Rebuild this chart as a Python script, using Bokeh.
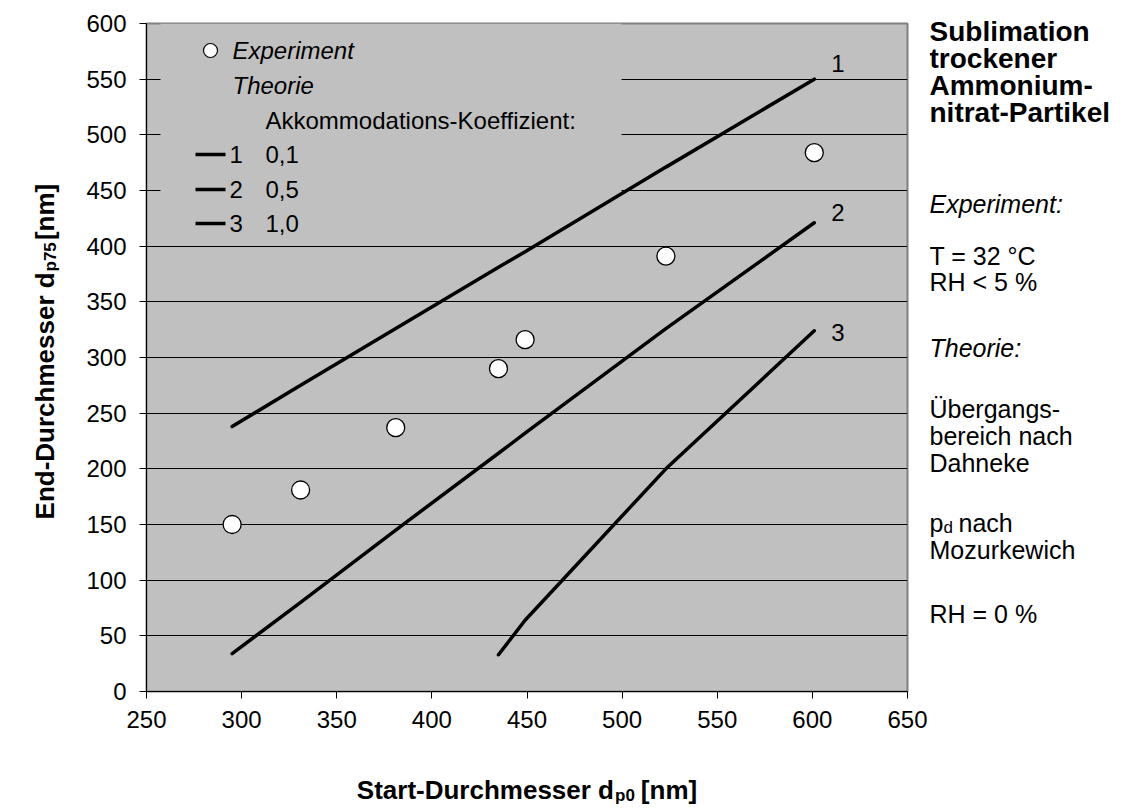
from math import pi
from bokeh.plotting import figure
from bokeh.models import Range1d, Label, FixedTicker
from bokeh.core.properties import value
from bokeh.layouts import row, column
from bokeh.embed import file_html
from bokeh.resources import INLINE

# ---------------- data ----------------
x_ticks = [250, 300, 350, 400, 450, 500, 550, 600, 650]
y_ticks = [0, 50, 100, 150, 200, 250, 300, 350, 400, 450, 500, 550, 600]

exp_x = [295, 331, 381, 435, 449, 523, 601]
exp_y = [150, 181, 237, 290, 316, 391, 484]

th1_x = [295, 331, 381, 435, 449, 523, 601]
th1_y = [238, 275, 326, 381, 395, 471, 550]
th2_x = [295, 331, 381, 435, 449, 523, 601]
th2_y = [34, 80, 145, 214, 232, 326, 421]
th3_x = [435, 449, 523, 601]
th3_y = [33, 64, 200, 324]

curve_ids = ["1", "2", "3"]
coef_labels = ["0,1", "0,5", "1,0"]

# ---------------- layout (page pixels) ----------------
TOTAL_H = 806
YT_W = 70
ML, MR, MT, MB = 76, 22, 23, 60
FW, FH = 761, 668
MAIN_W = ML + FW + MR
MAIN_H = MT + FH + MB
XT_H = TOTAL_H - MAIN_H
NOTES_X = YT_W + MAIN_W
NOTES_W = 1120 - NOTES_X

PL = YT_W + ML
PT = MT
SX = FW / 400.0
SY = FH / 600.0


def dx(px):
    return 250 + (px - PL) / SX


def dy(py):
    return 600 - (py - PT) / SY


FONT = "Liberation Sans"
FS = "24px"
FSN = "25px"
FSB = "26px"
FSNB = "28px"
FSUB = "17px"


def text_fig(w, h):
    f = figure(width=w, height=h, x_range=Range1d(0, w), y_range=Range1d(0, h),
               min_border=0, x_axis_location=None, y_axis_location=None,
               output_backend="svg", toolbar_location=None)
    f.outline_line_color = None
    f.grid.visible = False
    f.background_fill_color = "white"
    f.border_fill_color = "white"
    return f


def add_text(fig, x, y, text, size=FS, style="normal", baseline="alphabetic", angle=0.0,
             align="left"):
    fig.text(x=[x], y=[y], text=[text], text_font=value(FONT), text_font_size=value(size),
             text_font_style=style, text_baseline=baseline, text_align=align,
             angle=angle, text_color="black")


# ---------------- main plot ----------------
p = figure(width=MAIN_W, height=MAIN_H,
           min_border_left=ML, min_border_right=MR, min_border_top=MT, min_border_bottom=MB,
           x_range=Range1d(250, 650), y_range=Range1d(0, 600),
           output_backend="svg", toolbar_location=None)
p.background_fill_color = "#C0C0C0"
p.border_fill_color = "white"
p.outline_line_color = "#808080"
p.outline_line_width = 2

p.xgrid.grid_line_color = None
p.ygrid.grid_line_color = "#000000"
p.ygrid.grid_line_width = 1
p.ygrid.ticker = FixedTicker(ticks=y_ticks)

p.xaxis.ticker = FixedTicker(ticks=x_ticks)
p.yaxis.ticker = FixedTicker(ticks=y_ticks)
for ax in (p.xaxis, p.yaxis):
    ax.axis_line_color = "black"
    ax.axis_line_width = 1
    ax.major_tick_line_color = "black"
    ax.major_tick_out = 7
    ax.major_tick_in = 0
    ax.minor_tick_line_color = None
    ax.major_label_text_font = FONT
    ax.major_label_text_font_size = FS
    ax.major_label_text_color = "black"
p.xaxis.major_label_standoff = 12
p.yaxis.major_label_standoff = 13

# legend box (hides gridlines behind the legend)
p.quad(left=[dx(PL + 14)], right=[dx(PL + 475)], bottom=[dy(238)], top=[600],
       fill_color="#C0C0C0", line_color=None)

# theory lines
for xs, ys in ((th1_x, th1_y), (th2_x, th2_y), (th3_x, th3_y)):
    p.line(xs, ys, line_width=3.5, line_color="black", line_cap="round")

# experiment points
p.scatter(exp_x, exp_y, size=18, marker="circle", fill_color="white",
          line_color="black", line_width=1.3)

# curve labels near line ends
ends = [(th1_x[-1], th1_y[-1], 16), (th2_x[-1], th2_y[-1], 10), (th3_x[-1], th3_y[-1], -2)]
for cid, (ex, ey, off) in zip(curve_ids, ends):
    p.add_layout(Label(x=ex, y=ey, x_offset=17, y_offset=off, text=cid,
                       text_font=FONT, text_font_size=FS, text_baseline="middle",
                       text_align="left", text_color="black"))

# legend contents
p.scatter([dx(PL + 64)], [dy(50)], size=14, marker="circle", fill_color="white",
          line_color="black", line_width=1.2)
add_text(p, dx(PL + 86), dy(50), "Experiment", style="italic", baseline="middle")
add_text(p, dx(PL + 86), dy(85), "Theorie", style="italic", baseline="middle")
add_text(p, dx(PL + 119), dy(120), "Akkommodations-Koeffizient:", baseline="middle")
for i, (cid, cl) in enumerate(zip(curve_ids, coef_labels)):
    yy = [154, 189, 223][i]
    p.segment(x0=[dx(PL + 49)], y0=[dy(yy)], x1=[dx(PL + 79)], y1=[dy(yy)],
              line_width=3.5, line_color="black")
    add_text(p, dx(PL + 83), dy(yy), cid, baseline="middle")
    add_text(p, dx(PL + 119), dy(yy), cl, baseline="middle")

# ---------------- y title strip (rotated, reads upward) ----------------
yt = text_fig(YT_W, MAIN_H)
h_main = 9.502 * 26
h_sub = 1.723 * 17
h_gap = 7
h_tail = 2.166 * 26
tot = h_main + h_sub + h_gap + h_tail
cy = MAIN_H - (PT + FH / 2.0)
join = cy - tot / 2.0 + h_main
YB = 44
add_text(yt, YB, join, "End-Durchmesser d", size=FSB, style="bold", angle=pi / 2, align="right")
add_text(yt, YB + 6, join + 1, "p75", size=FSUB, style="bold", angle=pi / 2)
add_text(yt, YB, join + h_sub + h_gap, "[nm]", size=FSB, style="bold", angle=pi / 2)

# ---------------- x title strip ----------------
xt = text_fig(YT_W + MAIN_W, XT_H)
w_main = 9.891 * 26
w_sub = 1.167 * 17
w_gap = 7
w_tail = 2.166 * 26
totx = w_main + w_sub + w_gap + w_tail
cx = PL + FW / 2.0
xjoin = cx - totx / 2.0 + w_main
XB = TOTAL_H - 789
add_text(xt, xjoin, XB, "Start-Durchmesser d", size=FSB, style="bold", align="right")
add_text(xt, xjoin + 1, XB - 6, "p0", size=FSUB, style="bold")
add_text(xt, xjoin + w_sub + w_gap, XB, "[nm]", size=FSB, style="bold")

# ---------------- notes strip ----------------
nt = text_fig(NOTES_W, TOTAL_H)
NX = 0


def note(py, text, size=FSN, style="normal", xoff=0):
    add_text(nt, NX + xoff, TOTAL_H - py, text, size=size, style=style)


for t, yb in zip(["Sublimation", "trockener", "Ammonium-", "nitrat-Partikel"], [31, 58, 85, 112]):
    note(yb, t, size=FSNB, style="bold")
note(203, "Experiment:", style="italic")
note(255, "T = 32 °C")
note(281, "RH < 5 %")
note(347, "Theorie:", style="italic")
note(408, "Übergangs-")
note(435, "bereich nach")
note(462, "Dahneke")
note(522, "p")
note(527, "d", size=FSUB, xoff=14)
note(522, "nach", xoff=29)
note(549, "Mozurkewich")
note(613, "RH = 0 %")

layout = row(column(row(yt, p), xt), nt)
open("out.html", "w").write(file_html(layout, INLINE))
